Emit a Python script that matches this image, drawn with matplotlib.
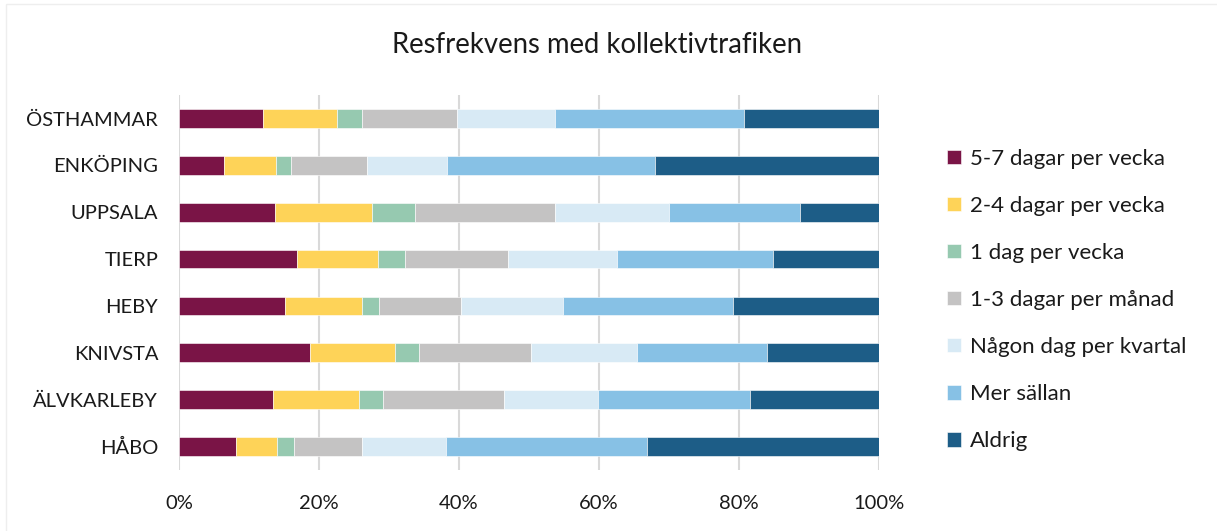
import matplotlib
matplotlib.use("Agg")

import numpy as np
import matplotlib.pyplot as plt
from matplotlib.patches import Rectangle

plt.rcParams["font.family"] = ["Lato", "DejaVu Sans"]

kommuner = ["ÖSTHAMMAR", "ENKÖPING", "UPPSALA", "TIERP", "HEBY", "KNIVSTA", "ÄLVKARLEBY", "HÅBO"]

kategorier = [
    "5-7 dagar per vecka",
    "2-4 dagar per vecka",
    "1 dag per vecka",
    "1-3 dagar per månad",
    "Någon dag per kvartal",
    "Mer sällan",
    "Aldrig",
]

# andel i procent, en lista per kategori (ordning som kommuner)
dag_5_7 = [12.0, 6.4, 13.7, 16.8, 15.1, 18.7, 13.4, 8.2]
dag_2_4 = [10.6, 7.4, 13.8, 11.6, 11.0, 12.1, 12.3, 5.8]
dag_1 = [3.5, 2.2, 6.2, 3.9, 2.5, 3.5, 3.4, 2.4]
manad_1_3 = [13.6, 10.8, 20.0, 14.7, 11.7, 16.0, 17.3, 9.8]
kvartal = [14.0, 11.5, 16.3, 15.5, 14.6, 15.1, 13.5, 11.9]
mer_sallan = [27.0, 29.7, 18.7, 22.4, 24.2, 18.6, 21.6, 28.7]
aldrig = [19.3, 32.0, 11.3, 15.1, 20.9, 16.0, 18.5, 33.2]

farger = ["#7a1446", "#fed358", "#96c9b0", "#c4c3c3", "#d8eaf5", "#87c1e5", "#1d5d87"]

serier = [dag_5_7, dag_2_4, dag_1, manad_1_3, kvartal, mer_sallan, aldrig]

fig = plt.figure(figsize=(12.17, 5.31), dpi=100)
fig.patches.append(Rectangle((0.005, -0.01), 1.0, 1.002, transform=fig.transFigure,
                             facecolor="none", edgecolor="#eeeeee", linewidth=1.0))
ax = fig.add_axes([179 / 1217, 1 - 470 / 531, 700 / 1217, 375 / 531])

y = np.arange(len(kommuner))
left = np.zeros(len(kommuner))
handles = []
for namn, varden, farg in zip(kategorier, serier, farger):
    v = np.array(varden)
    b = ax.barh(y, v, left=left, height=0.4, color=farg, edgecolor="white",
                linewidth=0.4, label=namn, zorder=3)
    handles.append(b)
    left += v

ax.set_xlim(0, 100)
ax.set_ylim(len(kommuner) - 0.5, -0.5)
ax.set_yticks(y)
ax.set_yticklabels(kommuner, fontsize=14.5, color="#1a1a1a")
ax.set_xticks(np.arange(0, 101, 20))
ax.set_xticklabels([f"{t}%" for t in range(0, 101, 20)], fontsize=14.5, color="#1a1a1a")
ax.tick_params(axis="both", length=0)
ax.tick_params(axis="y", pad=15)
ax.tick_params(axis="x", pad=18)
ax.grid(axis="x", color="#d9d9d9", linewidth=1.5, zorder=0)
for s in ax.spines.values():
    s.set_visible(False)

fig.text(597 / 1217, 1 - 45 / 531, "Resfrekvens med kollektivtrafiken",
         ha="center", va="center", fontsize=19.8, color="#1a1a1a")

fig.legend(handles=handles, labels=kategorier, loc="center left",
           bbox_to_anchor=(927 / 1217, 1 - 300 / 531), frameon=False,
           fontsize=16, handlelength=0.62, handleheight=0.62,
           handletextpad=0.4, labelspacing=1.22, labelcolor="#1a1a1a")

fig.savefig("out.png", dpi=100)
plt.close(fig)
